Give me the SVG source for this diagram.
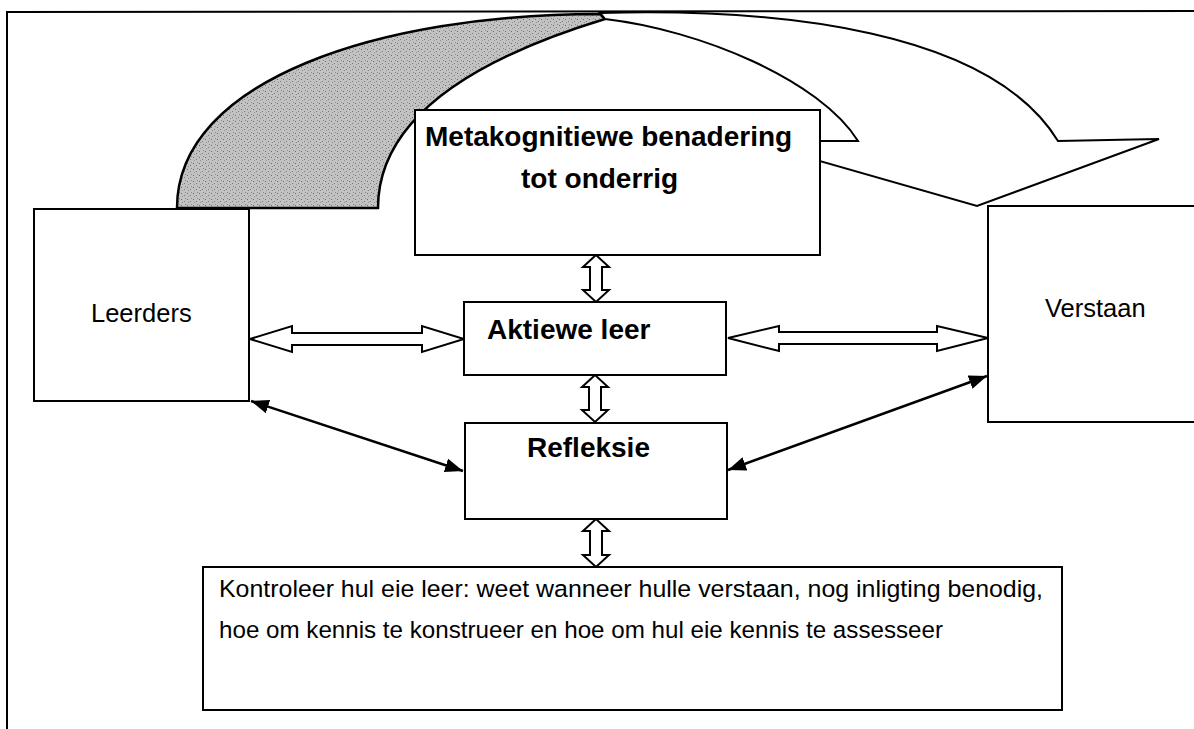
<svg xmlns="http://www.w3.org/2000/svg" width="1194" height="729" viewBox="0 0 1194 729">
<style>
.box{fill:#fff;stroke:#000;stroke-width:2}
.blk{fill:#fff;stroke:#000;stroke-width:2;stroke-linejoin:miter}
.t{font-family:"Liberation Sans",Arial,sans-serif;fill:#000}
.b{font-weight:bold;font-size:28px}
.n{font-size:25.5px}
.s{font-size:24.5px}
.thin{stroke:#000;stroke-width:2.5;fill:none}
</style>
<defs>
<pattern id="speck" width="6" height="6" patternUnits="userSpaceOnUse">
<rect width="6" height="6" fill="#c2c2c2"/>
<rect x="1" y="1" width="1" height="1" fill="#6a6a6a"/>
<rect x="4" y="3" width="1" height="1" fill="#7a7a7a"/>
<rect x="2" y="4" width="1" height="1" fill="#909090"/>
<rect x="5" y="0" width="1" height="1" fill="#8a8a8a"/>
</pattern>
<marker id="ah" markerUnits="userSpaceOnUse" markerWidth="18" markerHeight="14" refX="18" refY="7" orient="auto-start-reverse">
<path d="M0,0 L18,7 L0,14 Z" fill="#000"/>
</marker>
</defs>

<g id="frame">
<path d="M7,729 L7,12 L1194,11" fill="none" stroke="#000" stroke-width="2"/>
</g>

<g id="curved-arrow">
<path d="M177,208 C177,80 380,14 600,14 L605,19 C470,60 378,120 378,208 Z" fill="url(#speck)" stroke="#000" stroke-width="2.5"/>
<path d="M600,13 C780,8 990,30 1058,141 L1159,139 L977,206 L750,141 L858,141 C820,80 700,30 605,19 Z" fill="#fff" stroke="#000" stroke-width="2"/>
</g>

<g id="connectors">
<polygon class="blk" points="250,339 292,326 292,333 422,333 422,326 464,339 422,352 422,345 292,345 292,352"/>
<polygon class="blk" points="728,338 779,326 779,332 937,332 937,326 988,338 937,351 937,344 779,344 779,351"/>
<polygon class="blk" points="596,255 583,267 590,267 590,290 583,290 596,302 609,290 602,290 602,267 609,267"/>
<polygon class="blk" points="595,375 582,387 589,387 589,410 582,410 595,422 608,410 601,410 601,387 608,387"/>
<polygon class="blk" points="596,519 583,531 590,531 590,555 583,555 596,567 609,555 602,555 602,531 609,531"/>
<line class="thin" x1="251" y1="401" x2="463" y2="471" marker-start="url(#ah)" marker-end="url(#ah)"/>
<line class="thin" x1="728" y1="470" x2="987" y2="376" marker-start="url(#ah)" marker-end="url(#ah)"/>
</g>

<g id="node-metakognitiewe">
<rect class="box" x="415" y="110" width="405" height="145"/>
<text class="t b" x="425" y="146">Metakognitiewe benadering</text>
<text class="t b" x="521" y="188">tot onderrig</text>
</g>

<g id="node-leerders">
<rect class="box" x="34" y="209" width="215" height="192"/>
<text class="t n" x="91" y="322">Leerders</text>
</g>

<g id="node-verstaan">
<rect class="box" x="988" y="206" width="210" height="216"/>
<text class="t n" x="1045" y="317">Verstaan</text>
</g>

<g id="node-aktiewe">
<rect class="box" x="464" y="302" width="262" height="73"/>
<text class="t b" x="487" y="339">Aktiewe leer</text>
</g>

<g id="node-refleksie">
<rect class="box" x="465" y="423" width="262" height="96"/>
<text class="t b" x="527" y="457">Refleksie</text>
</g>

<g id="node-kontroleer">
<rect class="box" x="203" y="567" width="859" height="143"/>
<text class="t s" x="219" y="597" textLength="824" lengthAdjust="spacingAndGlyphs">Kontroleer hul eie leer: weet wanneer hulle verstaan, nog inligting benodig,</text>
<text class="t s" x="219" y="638" textLength="724" lengthAdjust="spacingAndGlyphs">hoe om kennis te konstrueer en hoe om hul eie kennis te assesseer</text>
</g>
</svg>
